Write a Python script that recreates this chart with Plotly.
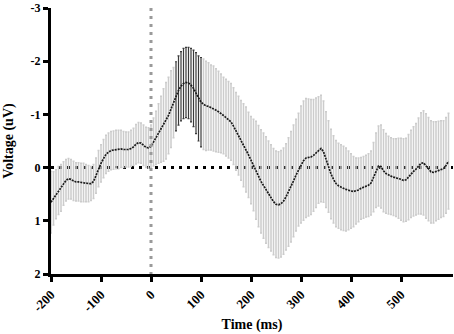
import numpy as np
import plotly.graph_objects as go

# Time axis (ms), 5 ms steps
time_ms = list(range(-200, 600, 5))

# Mean voltage (uV)
mean_uv = [
    0.65, 0.58, 0.50, 0.43, 0.38, 0.30, 0.24, 0.21, 0.22, 0.25,
    0.27, 0.27, 0.28, 0.28, 0.29, 0.30, 0.30, 0.26, 0.15, 0.02,
    -0.08, -0.17, -0.25, -0.29, -0.32, -0.33, -0.34, -0.34, -0.35, -0.34,
    -0.34, -0.34, -0.36, -0.39, -0.44, -0.47, -0.46, -0.42, -0.38, -0.37,
    -0.40, -0.48, -0.56, -0.64, -0.72, -0.80, -0.88, -0.98, -1.10, -1.22,
    -1.34, -1.45, -1.53, -1.58, -1.60, -1.59, -1.55, -1.49, -1.40, -1.30,
    -1.23, -1.19, -1.16, -1.15, -1.13, -1.11, -1.08, -1.05, -1.02, -0.98,
    -0.94, -0.90, -0.86, -0.78, -0.68, -0.60, -0.51, -0.42, -0.34, -0.24,
    -0.14, -0.05, 0.05, 0.16, 0.26, 0.34, 0.42, 0.50, 0.57, 0.64,
    0.69, 0.70, 0.68, 0.63, 0.55, 0.46, 0.36, 0.25, 0.14, 0.04,
    -0.06, -0.13, -0.18, -0.19, -0.20, -0.23, -0.28, -0.33, -0.36, -0.30,
    -0.15, -0.02, 0.12, 0.22, 0.30, 0.34, 0.37, 0.39, 0.41, 0.43,
    0.44, 0.45, 0.44, 0.42, 0.39, 0.37, 0.35, 0.33, 0.29, 0.18,
    0.05, -0.03, -0.02, 0.06, 0.11, 0.14, 0.16, 0.18, 0.19, 0.20,
    0.22, 0.24, 0.23, 0.18, 0.12, 0.07, 0.03, -0.03, -0.08, -0.09,
    -0.03, 0.03, 0.08, 0.09, 0.07, 0.05, 0.03, 0.02, -0.04, -0.12,
]

# Error (half-width of bars, uV)
err_uv = [
    0.58, 0.50, 0.46, 0.45, 0.44, 0.41, 0.39, 0.38, 0.37, 0.37,
    0.36, 0.36, 0.36, 0.36, 0.35, 0.34, 0.32, 0.32, 0.33, 0.34,
    0.35, 0.36, 0.36, 0.36, 0.36, 0.36, 0.36, 0.36, 0.35, 0.34,
    0.33, 0.33, 0.34, 0.35, 0.37, 0.38, 0.38, 0.38, 0.38, 0.38,
    0.40, 0.45, 0.50, 0.56, 0.62, 0.68, 0.72, 0.72, 0.72, 0.66,
    0.65, 0.65, 0.65, 0.66, 0.66, 0.67, 0.69, 0.72, 0.76, 0.80,
    0.84, 0.85, 0.84, 0.82, 0.80, 0.80, 0.78, 0.76, 0.74, 0.72,
    0.72, 0.72, 0.72, 0.72, 0.73, 0.74, 0.75, 0.78, 0.80, 0.80,
    0.82, 0.86, 0.92, 0.95, 0.97, 0.99, 1.00, 1.00, 1.00, 1.00,
    1.00, 1.00, 1.00, 1.00, 1.00, 1.02, 1.04, 1.05, 1.05, 1.06,
    1.10, 1.12, 1.12, 1.10, 1.08, 1.05, 1.03, 1.00, 1.00, 0.95,
    0.90, 0.86, 0.84, 0.82, 0.81, 0.80, 0.80, 0.79, 0.78, 0.74,
    0.70, 0.66, 0.62, 0.60, 0.58, 0.58, 0.58, 0.59, 0.60, 0.65,
    0.70, 0.75, 0.78, 0.77, 0.75, 0.73, 0.72, 0.72, 0.73, 0.75,
    0.77, 0.78, 0.78, 0.80, 0.82, 0.84, 0.86, 0.90, 0.95, 0.98,
    0.98, 0.97, 0.96, 0.95, 0.93, 0.92, 0.91, 0.90, 0.90, 0.90,
]

# Highlighted window (ms)
highlight_window = [50, 100]

x_ticks = [-200, -100, 0, 100, 200, 300, 400, 500]
y_ticks = [-3, -2, -1, 0, 1, 2]

t = np.array(time_ms)
m = np.array(mean_uv)
e = np.array(err_uv)
hl = (t >= highlight_window[0]) & (t <= highlight_window[1])

serif = "Liberation Serif"
fig = go.Figure()

fig.add_trace(go.Scatter(
    x=t[~hl], y=m[~hl], mode="markers",
    marker=dict(size=1, color="rgba(0,0,0,0)"),
    error_y=dict(type="data", array=e[~hl], visible=True,
                 color="#cccccc", thickness=1.5, width=1),
    hoverinfo="skip", showlegend=False,
))
fig.add_trace(go.Scatter(
    x=t[hl], y=m[hl], mode="markers",
    marker=dict(size=1, color="rgba(0,0,0,0)"),
    error_y=dict(type="data", array=e[hl], visible=True,
                 color="#3a3a3a", thickness=1.2, width=1),
    hoverinfo="skip", showlegend=False,
))
fig.add_trace(go.Scatter(
    x=t, y=m, mode="lines",
    line=dict(color="#1a1a1a", width=1.7, dash="2px,1px"),
    showlegend=False,
))

# zero line (below bars) and stimulus onset line (above)
fig.add_shape(type="line", x0=-200, x1=604, y0=0, y1=0, layer="below",
              line=dict(color="black", width=3, dash="3px,5px"))
fig.add_shape(type="line", x0=0, x1=0, y0=-3, y1=2, layer="above",
              line=dict(color="#9a9a9a", width=3, dash="3px,5px"))

fig.update_layout(
    width=454, height=334,
    margin=dict(l=51, r=1, t=8, b=60),
    paper_bgcolor="white", plot_bgcolor="white",
    font=dict(family=serif, color="black"),
)
fig.update_xaxes(
    range=[-200, 604], tickvals=x_ticks, ticktext=[str(v) for v in x_ticks],
    tickangle=-45, ticks="outside", ticklen=5, tickwidth=3, tickcolor="black",
    showline=True, linewidth=3, linecolor="black", showgrid=False, zeroline=False,
    tickfont=dict(family=serif, size=13, weight="bold"),
    title=dict(text="<b>Time (ms)</b>", font=dict(family=serif, size=14), standoff=6),
    automargin=False,
)
fig.update_yaxes(
    range=[2, -3], tickvals=y_ticks, ticktext=[str(v) for v in y_ticks],
    ticks="outside", ticklen=5, tickwidth=3, tickcolor="black",
    showline=True, linewidth=3, linecolor="black", showgrid=False, zeroline=False,
    tickfont=dict(family=serif, size=12, weight="bold"),
    title=dict(text="<b>Voltage (uV)</b>", font=dict(family=serif, size=14), standoff=14),
    automargin=False,
)

fig.write_html(
    "out.html",
    config={"displayModeBar": False},
    post_script="document.body.style.margin='0';document.body.style.overflow='hidden';",
)
